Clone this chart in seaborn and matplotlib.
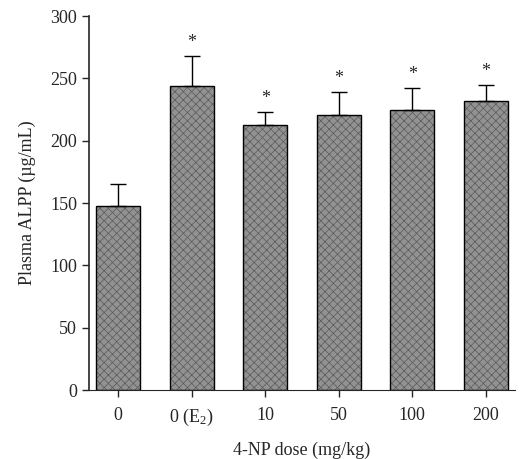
import numpy as np
import pandas as pd
import seaborn as sns
import matplotlib.pyplot as plt

doses = ['0', '0 (E$_2$)', '10', '50', '100', '200']
alpp = [148, 244, 213, 221, 225, 232]
sem = [17, 24, 10, 18, 17, 13]
signif = [False, True, True, True, True, True]

sns.set_style('ticks')
plt.rcParams['font.family'] = ['Liberation Serif', 'DejaVu Serif']
plt.rcParams['mathtext.default'] = 'regular'
plt.rcParams['hatch.linewidth'] = 0.5

df = pd.DataFrame({'dose': doses, 'alpp': alpp})

fig = plt.figure(figsize=(5.29, 4.59), dpi=100)
ax = fig.add_axes([0.168, 0.150, 0.806, 0.815])

# stipple-like fill
sns.barplot(data=df, x='dose', y='alpp', color='#929292', width=0.6,
            edgecolor='#5a5a5a', linewidth=0, saturation=1, ax=ax)
for p in ax.patches:
    p.set_hatch('xxxx')
# black outline on top
sns.barplot(data=df, x='dose', y='alpp', width=0.6, fill=False,
            edgecolor='black', linewidth=1.0, ax=ax)

x = np.arange(len(doses))
ax.errorbar(x, alpp, yerr=[np.zeros(len(sem)), sem], fmt='none',
            ecolor='black', elinewidth=1.0, capsize=6, capthick=1.0)
for i in range(len(doses)):
    if signif[i]:
        ax.text(x[i], alpp[i] + sem[i] + 4, '*', ha='center', va='bottom',
                fontsize=13)

ax.set_ylim(0, 300)
ax.set_xlim(-0.4, 5.4)
ax.set_yticks([0, 50, 100, 150, 200, 250, 300])
ax.tick_params(axis='both', labelsize=13, direction='out', length=5, width=1)
ax.tick_params(axis='x', pad=7)
ax.set_xlabel('4-NP dose (mg/kg)', fontsize=13, labelpad=10)
ax.set_ylabel('Plasma ALPP (\u00b5g/mL)', fontsize=13, labelpad=10)
sns.despine(ax=ax)
ax.spines['bottom'].set_linewidth(0.8)
ax.spines['left'].set_linewidth(1.2)

fig.savefig('out.png', dpi=100)
